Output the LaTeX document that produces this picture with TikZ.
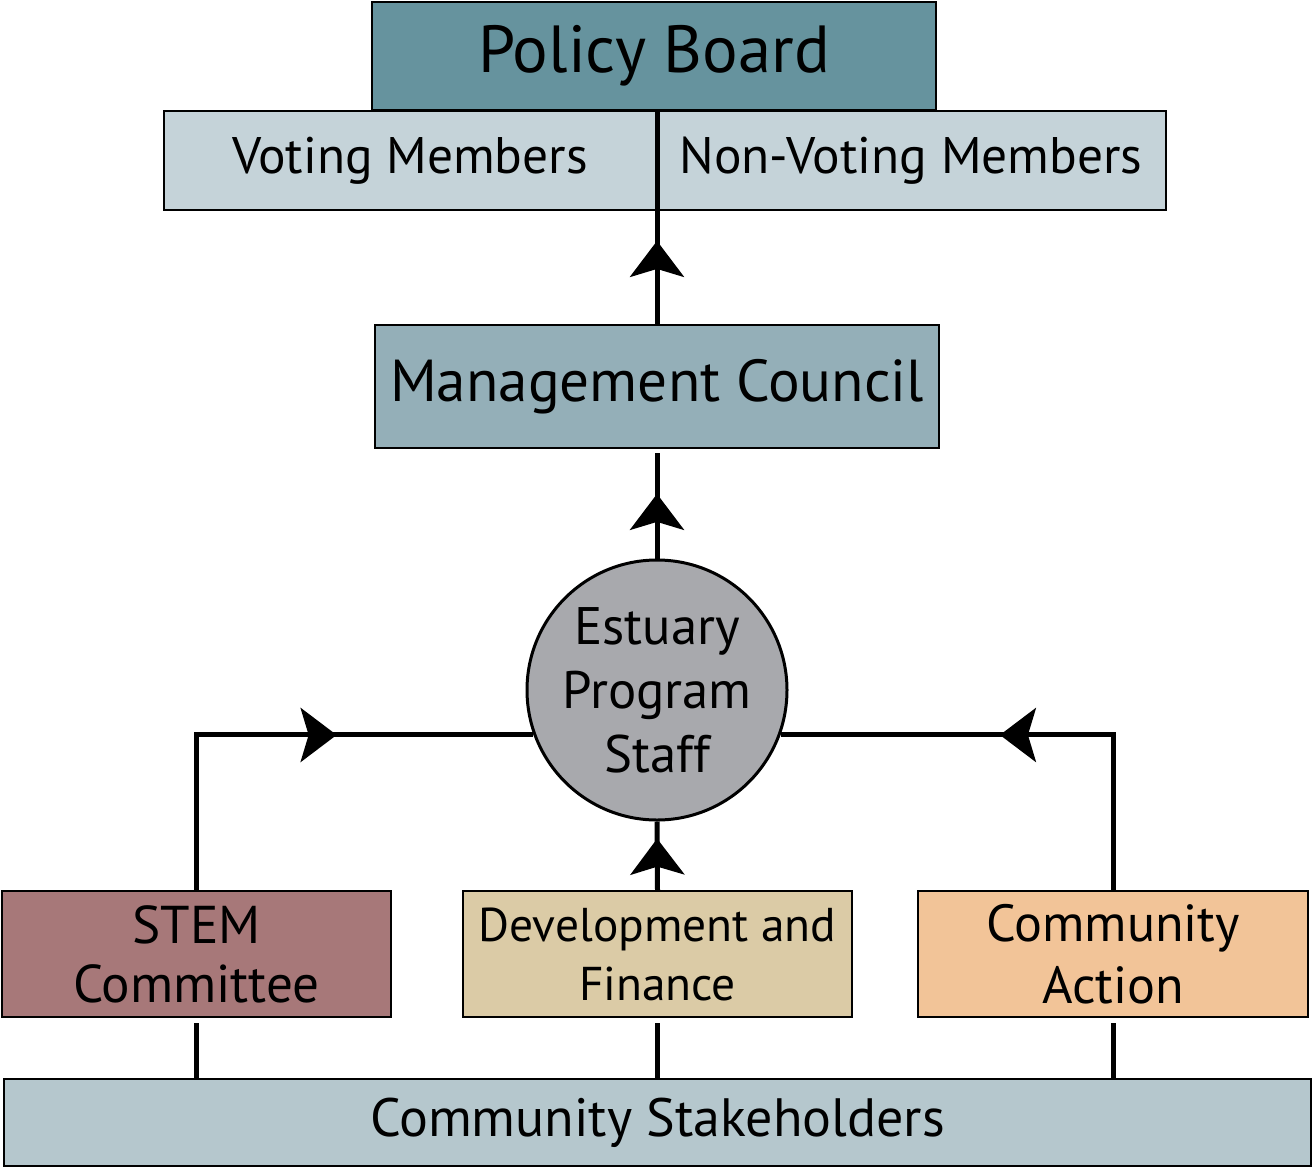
\documentclass[tikz,border=0pt]{standalone}
\usepackage{fontspec}
\setmainfont{PT Sans}
\usetikzlibrary{arrows.meta,decorations.markings}

\definecolor{boardteal}{HTML}{66939E}
\definecolor{memberblue}{HTML}{C5D3D9}
\definecolor{councilblue}{HTML}{94AFB8}
\definecolor{staffgray}{HTML}{A8A9AD}
\definecolor{stemrose}{HTML}{A77879}
\definecolor{financetan}{HTML}{DBCBA6}
\definecolor{actionpeach}{HTML}{F2C498}
\definecolor{stakeblue}{HTML}{B5C7CD}

\tikzset{every picture/.style={line width=1pt}}
\tikzset{
  orgbox/.style={draw=black, line width=1pt, rectangle, inner sep=0pt, align=center},
  link/.style={line width=2.5pt},
  midarrow/.style={postaction={decorate}, decoration={markings,
      mark=at position #1 with {\arrow{Stealth[length=18pt,width=27pt,inset=4pt]}}}}
}

\begin{document}
\begin{tikzpicture}[x=0.5pt,y=0.5pt,yscale=-1,xscale=1]

\useasboundingbox (0,0) rectangle (1313,1168);

% top of the chart
\node [orgbox, fill=boardteal, minimum width=282pt, minimum height=54pt, font=\fontsize{33.3}{40}\selectfont] (pb) at (654,56) {Policy Board};
\node [orgbox, fill=memberblue, minimum width=246pt, minimum height=49.5pt, font=\fontsize{25.7}{30}\selectfont] (vm) at (410,160.5) {Voting Members};
\node [orgbox, fill=memberblue, minimum width=255pt, minimum height=49.5pt, font=\fontsize{25.7}{30}\selectfont] (nvm) at (911,160.5) {Non-Voting Members};

\node [orgbox, fill=councilblue, minimum width=282pt, minimum height=61.5pt, font=\fontsize{29.6}{34}\selectfont] (mc) at (657,386.5) {Management Council};

\node [draw=black, line width=1.5pt, circle, fill=staffgray, minimum size=130pt, inner sep=0pt, align=center, font=\fontsize{26.4}{32}\selectfont] (eps) at (657,690) {Estuary\\Program\\Staff};

% working groups
\node [orgbox, fill=stemrose, minimum width=194.5pt, minimum height=63pt, font=\fontsize{26.6}{29.5}\selectfont] (stem) at (196.5,954) {STEM\\Committee};
\node [orgbox, fill=financetan, minimum width=194.5pt, minimum height=63pt, font=\fontsize{23.7}{29.5}\selectfont] (df) at (657.5,954) {Development and\\Finance};
\node [orgbox, fill=actionpeach, minimum width=195pt, minimum height=63pt, font=\fontsize{26.1}{31}\selectfont] (ca) at (1113,954) {Community\\Action};

\node [orgbox, fill=stakeblue, minimum width=653.5pt, minimum height=43.5pt, font=\fontsize{27}{30}\selectfont] (cs) at (657.5,1122.5) {Community Stakeholders};

% connectors
\draw [link, midarrow=0.39] (mc.north) -- (mc.north |- pb.south);
\draw [link, midarrow=0.59, shorten >=2pt] (eps.north) -- (mc.south);
\draw [link, midarrow=0.75] (df.north) -- (eps.south);
\draw [link, midarrow=0.60] (stem.north) |- (eps.200);
\draw [link, midarrow=0.55] (ca.north) |- (eps.340);

\draw [link, shorten <=2.5pt] (stem.south) -- (stem.south |- cs.north);
\draw [link, shorten <=2.5pt] (df.south) -- (df.south |- cs.north);
\draw [link, shorten <=2.5pt] (ca.south) -- (ca.south |- cs.north);

\end{tikzpicture}
\end{document}
